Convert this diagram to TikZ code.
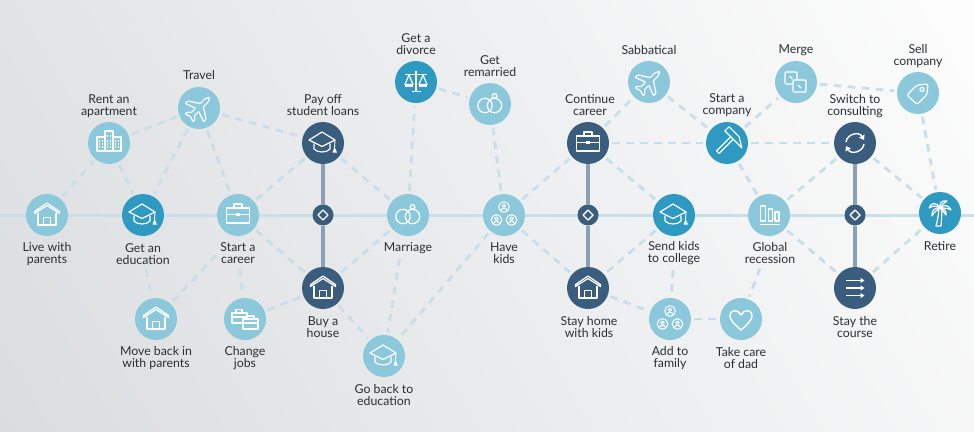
\documentclass[tikz,border=0pt]{standalone}
\usepackage{fontspec}
\setmainfont{Lato}
\usepackage{tikz}
\usetikzlibrary{arrows.meta}

\definecolor{lightdot}{HTML}{8CC8DB}
\definecolor{middot}{HTML}{2E9AC2}
\definecolor{darkdot}{HTML}{3A5D7E}
\definecolor{linkblue}{HTML}{C8DFEA}
\definecolor{trunkblue}{HTML}{8A9FB8}
\definecolor{lbltext}{HTML}{2B2F33}
\definecolor{bglow}{HTML}{DADDDF}
\definecolor{bghigh}{HTML}{FDFDFD}

\tikzset{
  icoline/.style={draw=white, line width=1.2pt, line join=round},
  icohouse/.pic={
    \draw[icoline] (-12.5,-3.5) -- (0,-12) -- (12.5,-3.5) -- (12.5,-1.5) -- (0,-9.5) -- (-12.5,-1.5) -- cycle;
    \draw[icoline] (-9,-2.5) -- (-9,10) -- (9,10) -- (9,-2.5);
    \draw[icoline] (-3.5,10) -- (-3.5,2.5) -- (3.5,2.5) -- (3.5,10);
  },
  icocap/.pic={
    \draw[icoline] (-14,-3) -- (-1,-11) -- (12,-3) -- (-1,3.5) -- cycle;
    \draw[icoline] (-9,0.5) -- (-9,6) .. controls (-6,10) and (4,10) .. (7,6) -- (7,0.5);
    \draw[icoline, line width=0.9pt] (12,-3) -- (11.5,5);
    \fill[white] (11.5,4) -- (14,9.5) -- (9.5,9.5) -- cycle;
  },
  icocase/.pic={
    \draw[icoline] (-11.5,-7) rectangle (11.5,8);
    \draw[icoline] (-4,-7) -- (-4,-11) -- (4,-11) -- (4,-7);
    \draw[icoline] (-11.5,-0.5) -- (-2,-0.5) (2,-0.5) -- (11.5,-0.5);
    \fill[white] (-1.8,-1.8) rectangle (1.8,1.4);
  },
  icorings/.pic={
    \draw[icoline] (-5,1.5) circle (7.2);
    \draw[icoline] (4.5,1.5) circle (7.2);
    \draw[icoline] (4.5,-5.5) -- (2,-7.5) -- (3,-10) -- (6,-10) -- (7,-7.5) -- cycle;
  },
  icoscale/.pic={
    \draw[icoline] (0,-11) -- (0,9);
    \draw[icoline] (-4.5,9.5) -- (4.5,9.5);
    \draw[icoline] (-11,-7.5) -- (11,-7.5);
    \draw[icoline] (-7,-7) -- (-11,2.5) -- (-3,2.5) -- cycle;
    \draw[icoline] (7,-7) -- (11,2.5) -- (3,2.5) -- cycle;
    \fill[white] (-11,2.5) rectangle (-3,4.5);
    \fill[white] (3,2.5) rectangle (11,4.5);
  },
  icoplane/.pic={
    \draw[icoline, rotate=-45, rounded corners=0.8pt] (0,-15) -- (2.2,-11) -- (2.2,-4) -- (13,3) -- (13,6.5)
      -- (2.2,2.5) -- (2.2,8.5) -- (5.5,11.5) -- (5.5,14) -- (0,12) -- (-5.5,14) -- (-5.5,11.5)
      -- (-2.2,8.5) -- (-2.2,2.5) -- (-13,6.5) -- (-13,3) -- (-2.2,-4) -- (-2.2,-11) -- cycle;
  },
  icotower/.pic={
    \draw[icoline] (-12,-6) rectangle (-4,8);
    \draw[icoline] (-4,-12) rectangle (4,8);
    \draw[icoline] (4,-6) rectangle (12,8);
    \foreach \wx in {-10,-7,-2,1,6,9}
      \foreach \wy in {-3,0,3}
        \fill[white] (\wx,\wy) rectangle +(1.4,1.6);
    \foreach \wx in {-2,1}
      \fill[white] (\wx,-8) rectangle +(1.4,1.6);
  },
  icokids/.pic={
    \foreach \px/\py in {0/-8, -7.5/5, 7.5/5} {
      \begin{scope}[shift={(\px,\py)}]
        \draw[icoline, line width=1pt] (0,0) circle (5.3);
        \draw[icoline, line width=1pt] (0,-1.2) circle (1.7);
        \draw[icoline, line width=1pt] (-3,3.6) .. controls (-3,0.6) and (3,0.6) .. (3,3.6);
      \end{scope}
    }
  },
  icocases/.pic={
    \draw[icoline] (-13,-6) rectangle (2,4);
    \draw[icoline] (-9,-6) -- (-9,-9.5) -- (-3,-9.5) -- (-3,-6);
    \draw[icoline] (-13,-2) -- (2,-2);
    \draw[icoline, fill=lightdot] (-2,0) rectangle (13,10);
    \draw[icoline] (2,0) -- (2,-3) -- (9,-3) -- (9,0);
    \draw[icoline] (-2,4) -- (13,4);
  },
  icohammer/.pic={
    \begin{scope}[rotate=-45]
      \draw[icoline] (-1.8,-7) -- (-1.8,13) -- (1.8,13) -- (1.8,-7);
      \draw[icoline] (-10,-13) -- (4,-13) -- (14,-7) -- (4,-7) -- (-10,-7) -- cycle;
    \end{scope}
  },
  icosync/.pic={
    \draw[icoline, line width=1.4pt, -{Triangle[length=4.5pt,width=6pt]}] (-9,-1) .. controls (-8,-9) and (4,-12) .. (9,-3);
    \draw[icoline, line width=1.4pt, -{Triangle[length=4.5pt,width=6pt]}] (9,1) .. controls (8,9) and (-4,12) .. (-9,3);
  },
  icobars/.pic={
    \draw[icoline] (-8.5,-9) rectangle (-3.5,6);
    \draw[icoline] (-0.5,-6) rectangle (3.5,6);
    \draw[icoline] (6,-3) rectangle (10,6);
    \draw[icoline] (-9,9.5) -- (11,9.5);
  },
  icolanes/.pic={
    \foreach \ly in {-7.5,0,7.5}
      \draw[icoline, line width=1.3pt, -{Triangle[length=4pt,width=5pt]}] (-9.5,\ly) -- (9.5,\ly);
  },
  icodice/.pic={
    \draw[icoline, rounded corners=1pt] (-11,-10) rectangle (1,2);
    \draw[icoline] (-6.5,-6) -- (-3.5,-3);
    \draw[icoline, fill=lightdot, rounded corners=1pt] (-3,-2) rectangle (10,10);
    \draw[icoline] (2,3) -- (5,6);
  },
  icotag/.pic={
    \draw[icoline, rounded corners=2pt] (10,-9) -- (-1,-8) -- (-11,2) -- (-1,11.5) -- (9,1.5) -- cycle;
    \draw[icoline] (4,-3.5) circle (2);
  },
  icopalm/.pic={
    \draw[icoline] (-4,13) .. controls (-2,6) and (-1.5,0) .. (-1,-5) -- (1.5,-5) .. controls (2,1) and (1.5,7) .. (1,13) -- cycle;
    \draw[icoline] (0,-5) .. controls (-3,-11) and (-9,-11) .. (-11,-5) .. controls (-7,-8) and (-3,-7) .. (0,-5);
    \draw[icoline] (0,-5) .. controls (-5,-6) and (-9,-2) .. (-8,3) .. controls (-6,-1) and (-3,-3) .. (0,-5);
    \draw[icoline] (0,-5) .. controls (-1,-10) and (2,-13) .. (7,-12) .. controls (4,-11) and (2,-8) .. (0,-5);
    \draw[icoline] (0,-5) .. controls (4,-9) and (9,-8) .. (11,-3) .. controls (8,-5) and (4,-5) .. (0,-5);
    \draw[icoline] (0,-5) .. controls (3,-5) and (7,-2) .. (6,2) .. controls (4,-1) and (2,-3) .. (0,-5);
  },
  icoheart/.pic={
    \draw[icoline, line width=1.4pt] (0,11) .. controls (-6,6) and (-11,1) .. (-11,-3) .. controls (-11,-10) and (-3,-10) .. (0,-4)
      .. controls (3,-10) and (11,-10) .. (11,-3) .. controls (11,1) and (6,6) .. (0,11) -- cycle;
  },
  icomark/.pic={
    \draw[icoline, line width=1.4pt] (0,-5) -- (5,0) -- (0,5) -- (-5,0) -- cycle;
  },
}

\begin{document}
\begin{tikzpicture}[
  x=1pt, y=-1pt,
  dot/.style={circle, minimum size=42pt, inner sep=0pt, outer sep=0pt},
  lightstop/.style={dot, fill=lightdot},
  midstop/.style={dot, fill=middot},
  darkstop/.style={dot, fill=darkdot},
  crossing/.style={circle, minimum size=21pt, inner sep=0pt, outer sep=0pt, fill=darkdot},
  lbl/.style={align=center, font=\fontsize{12.3}{11.8}\selectfont, text=lbltext, inner sep=2pt, yshift=-1pt},
  link/.style={linkblue, line width=2.8pt, dash pattern=on 7.5pt off 6.5pt, shorten >=3pt, shorten <=3pt},
  trunk/.style={trunkblue, line width=3.5pt},
]
\useasboundingbox (0,0) rectangle (974,431);

% --- Background and time line ---
\begin{scope}
  \clip (0,0) rectangle (974,431);
  \begin{scope}[transform canvas={rotate around={30:(487,215)}}]
    \shade[left color=bglow, right color=bghigh] (-43,-400) rectangle (1017,830);
  \end{scope}
\end{scope}
\coordinate (linestart) at (0,215);
\coordinate (lineend) at (974,215);
\draw[linkblue, line width=3pt] (linestart) -- (lineend);

% --- Stops on the line ---
\node[lightstop] (live) at (47,215) {};
\node[midstop] (edu) at (143,215) {};
\node[lightstop] (career) at (238,215) {};
\node[lightstop] (marriage) at (408,215) {};
\node[lightstop] (kids) at (504,215) {};
\node[midstop] (college) at (674,215) {};
\node[lightstop] (recession) at (769,215) {};
\node[midstop] (retire) at (940,213) {};

% --- Stops above the line ---
\node[lightstop] (rent) at (109,143) {};
\node[lightstop] (travel) at (199,108) {};
\node[darkstop] (loans) at (323,143) {};
\node[midstop] (divorce) at (416,82) {};
\node[lightstop] (remarried) at (490,104) {};
\node[darkstop] (continue) at (588,143) {};
\node[lightstop] (sabbatical) at (649,82) {};
\node[midstop] (company) at (727,143) {};
\node[lightstop] (merge) at (796,82) {};
\node[darkstop] (consulting) at (855,143) {};
\node[lightstop] (sell) at (918,93) {};

% --- Stops below the line ---
\node[lightstop] (moveback) at (156,319) {};
\node[lightstop] (jobs) at (245,319) {};
\node[darkstop] (house) at (323,288) {};
\node[lightstop] (goback) at (384,356) {};
\node[darkstop] (stayhome) at (588,288) {};
\node[lightstop] (family) at (670,319) {};
\node[lightstop] (dad) at (741,319) {};
\node[darkstop] (course) at (855,288) {};

% --- Crossings ---
\node[crossing] (crossa) at (323,215) {};
\node[crossing] (crossb) at (588,215) {};
\node[crossing] (crossc) at (855,215) {};
\draw[trunk] (loans) -- (crossa);
\draw[trunk] (crossa) -- (house);
\draw[trunk] (continue) -- (crossb);
\draw[trunk] (crossb) -- (stayhome);
\draw[trunk] (consulting) -- (crossc);
\draw[trunk] (crossc) -- (course);

% --- Labels ---
\node[lbl] (livelbl) at (47,253) {Live with\\parents};
\node[lbl] (edulbl) at (143,253) {Get an\\education};
\node[lbl] (careerlbl) at (238,252) {Start a\\career};
\node[lbl] (marriagelbl) at (408,247) {Marriage};
\node[lbl] (kidslbl) at (504,252) {Have\\kids};
\node[lbl] (collegelbl) at (674,252) {Send kids\\to college};
\node[lbl] (recessionlbl) at (770,252) {Global\\recession};
\node[lbl] (retirelbl) at (940,245) {Retire};
\node[lbl] (rentlbl) at (109,105) {Rent an\\apartment};
\node[lbl] (travellbl) at (199,74) {Travel};
\node[lbl] (loanslbl) at (323,104) {Pay off\\student loans};
\node[lbl] (divorcelbl) at (416,43) {Get a\\divorce};
\node[lbl] (remarriedlbl) at (490,65) {Get\\remarried};
\node[lbl] (continuelbl) at (590,104) {Continue\\career};
\node[lbl] (sabbaticallbl) at (649,49) {Sabbatical};
\node[lbl] (companylbl) at (727,104) {Start a\\company};
\node[lbl] (mergelbl) at (796,49) {Merge};
\node[lbl] (consultinglbl) at (855,105) {Switch to\\consulting};
\node[lbl] (selllbl) at (918,55) {Sell\\company};
\node[lbl] (movebacklbl) at (156,357) {Move back in\\with parents};
\node[lbl] (jobslbl) at (245,357) {Change\\jobs};
\node[lbl] (houselbl) at (323,326) {Buy a\\house};
\node[lbl] (gobacklbl) at (384,394) {Go back to\\education};
\node[lbl] (stayhomelbl) at (589,326) {Stay home\\with kids};
\node[lbl] (familylbl) at (670,357) {Add to\\family};
\node[lbl] (dadlbl) at (741,357) {Take care\\of dad};
\node[lbl] (courselbl) at (855,326) {Stay the\\course};

% --- Dashed links, left part ---
\draw[link] (live) -- (rent);
\draw[link] (rent) -- (travel);
\draw[link] (rent) -- (edu);
\draw[link] (travel) -- (edu);
\draw[link] (travel) -- (career);
\draw[link] (travel) -- (loans);
\draw[link] (career) -- (loans);
\draw[link] (career) -- (house);
\draw[link] (edulbl) -- (moveback);
\draw[link] (careerlbl.west) -- (moveback);
\draw[link] (careerlbl) -- (jobs);
\draw[link] (jobs) -- (house);

% --- Dashed links, middle part ---
\draw[link] (loans) -- (marriage);
\draw[link] (house) -- (marriage);
\draw[link] (house) -- (goback);
\draw[link] (marriage) -- (divorce);
\draw[link] (divorce) -- (remarried);
\draw[link] (remarried) -- (kids);
\draw[link] ([xshift=-8pt]marriagelbl.south) -- (goback);
\draw[link] (kids) -- (goback);
\draw[link] (kids) -- (continue);
\draw[link] (kids) -- (stayhome);

% --- Dashed links, right part ---
\draw[link] (continue) -- (sabbatical);
\draw[link] (continue) -- (company);
\draw[link] (continue) -- (college);
\draw[link] (college) -- (stayhome);
\draw[link] (collegelbl) -- (family);
\draw[link] (stayhome) -- (family);
\draw[link] (family) -- (dad);
\draw[link] ([xshift=-9pt]recessionlbl.south) -- (dad);
\draw[link] (sabbatical) -- (company);
\draw[link] (company) -- (merge);
\draw[link] (company) -- (consulting);
\draw[link] (company) -- (recession);
\draw[link] (merge) -- (sell);
\draw[link] (recession) -- (consulting);
\draw[link] (recession) -- (course);
\draw[link] (consulting) -- (retire);
\draw[link] (sell) -- (retire);
\draw[link] (course) -- (retire);

% --- Icons ---
\pic at (live) {icohouse};
\pic at (edu) {icocap};
\pic at (career) {icocase};
\pic at (marriage) {icorings};
\pic at (kids) {icokids};
\pic at (college) {icocap};
\pic at (recession) {icobars};
\pic at (retire) {icopalm};
\pic at (rent) {icotower};
\pic at (travel) {icoplane};
\pic at (loans) {icocap};
\pic at (divorce) {icoscale};
\pic at (remarried) {icorings};
\pic at (continue) {icocase};
\pic at (sabbatical) {icoplane};
\pic at (company) {icohammer};
\pic at (merge) {icodice};
\pic at (consulting) {icosync};
\pic at (sell) {icotag};
\pic at (moveback) {icohouse};
\pic at (jobs) {icocases};
\pic at (house) {icohouse};
\pic at (goback) {icocap};
\pic at (stayhome) {icohouse};
\pic at (family) {icokids};
\pic at (dad) {icoheart};
\pic at (course) {icolanes};
\pic at (crossa) {icomark};
\pic at (crossb) {icomark};
\pic at (crossc) {icomark};

\end{tikzpicture}
\end{document}
